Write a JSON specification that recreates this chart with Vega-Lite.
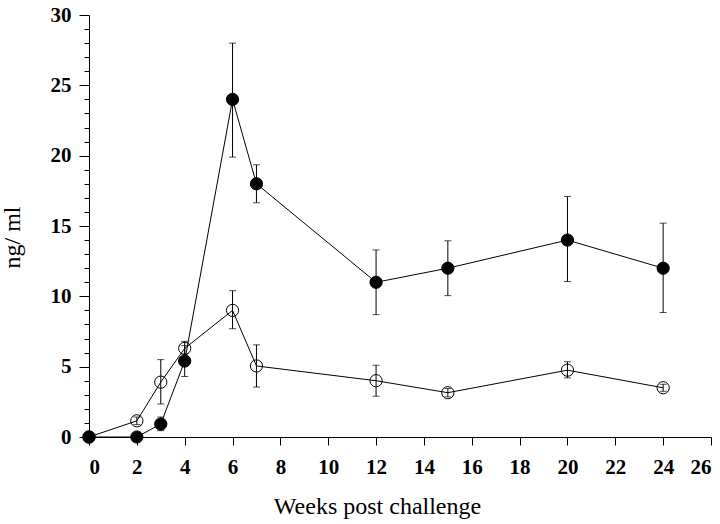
{
  "$schema": "https://vega.github.io/schema/vega-lite/v6.json",
  "width": 622,
  "height": 422,
  "autosize": "none",
  "padding": {"left": 89, "top": 15, "right": 9, "bottom": 87},
  "background": "white",
  "config": {
    "view": {"stroke": null},
    "font": "Liberation Serif",
    "axis": {"domainColor": "#000", "tickColor": "#000", "labelColor": "#000", "titleColor": "#000", "grid": false, "labelFont": "Liberation Serif", "titleFont": "Liberation Serif", "labelOverlap": false}
  },
  "data": {
    "values": [
      {"week": 0, "group": "closed", "ng": 0, "lo": 0, "hi": 0},
      {"week": 2, "group": "closed", "ng": 0, "lo": 0, "hi": 0},
      {"week": 3, "group": "closed", "ng": 0.92, "lo": 0.45, "hi": 1.42},
      {"week": 4, "group": "closed", "ng": 5.4, "lo": 4.3, "hi": 6.5},
      {"week": 6, "group": "closed", "ng": 24, "lo": 19.9, "hi": 28},
      {"week": 7, "group": "closed", "ng": 18, "lo": 16.65, "hi": 19.35},
      {"week": 12, "group": "closed", "ng": 11, "lo": 8.7, "hi": 13.3},
      {"week": 15, "group": "closed", "ng": 12, "lo": 10.05, "hi": 13.95},
      {"week": 20, "group": "closed", "ng": 14, "lo": 11.05, "hi": 17.1},
      {"week": 24, "group": "closed", "ng": 12, "lo": 8.85, "hi": 15.2},
      {"week": 0, "group": "open", "ng": 0, "lo": 0, "hi": 0},
      {"week": 2, "group": "open", "ng": 1.15, "lo": 0.88, "hi": 1.42},
      {"week": 3, "group": "open", "ng": 3.9, "lo": 2.35, "hi": 5.5},
      {"week": 4, "group": "open", "ng": 6.3, "lo": 5.9, "hi": 6.8},
      {"week": 6, "group": "open", "ng": 9, "lo": 7.7, "hi": 10.4},
      {"week": 7, "group": "open", "ng": 5.05, "lo": 3.55, "hi": 6.55},
      {"week": 12, "group": "open", "ng": 4, "lo": 2.9, "hi": 5.1},
      {"week": 15, "group": "open", "ng": 3.15, "lo": 2.85, "hi": 3.45},
      {"week": 20, "group": "open", "ng": 4.75, "lo": 4.2, "hi": 5.35},
      {"week": 24, "group": "open", "ng": 3.5, "lo": 3.25, "hi": 3.75}
    ]
  },
  "encoding": {
    "x": {
      "field": "week", "type": "quantitative",
      "scale": {"domain": [0, 26], "nice": false, "zero": false},
      "axis": {
        "values": [0, 2, 4, 6, 8, 10, 12, 14, 16, 18, 20, 22, 24, 26],
        "title": "Weeks post challenge",
        "labelFontSize": 21, "labelFontWeight": "bold", "labelPadding": 11,
        "tickSize": 8, "domainWidth": 1, "tickWidth": 1,
        "titleFontSize": 24, "titleFontWeight": "normal",
        "titleAnchor": "start", "titleAlign": "center", "titleBaseline": "alphabetic",
        "titleX": 288, "titleY": 76
      }
    }
  },
  "resolve": {"axis": {"y": "independent"}},
  "layer": [
    {
      "mark": {"type": "line", "color": "#000", "strokeWidth": 1},
      "encoding": {
        "y": {
          "field": "ng", "type": "quantitative",
          "scale": {"domain": [0, 30], "nice": false},
          "axis": {
            "orient": "left",
            "values": [0, 5, 10, 15, 20, 25, 30],
            "tickSize": 10,
            "labelFontSize": 21, "labelFontWeight": "bold", "labelPadding": 8,
            "title": "ng/ ml", "titleFontSize": 24, "titleFontWeight": "normal",
            "titleAnchor": "start", "titleAlign": "center", "titleBaseline": "alphabetic",
            "titleAngle": -90, "titleX": -70, "titleY": 222
          }
        },
        "detail": {"field": "group"}
      }
    },
    {
      "mark": {"type": "rule", "color": "#000", "strokeWidth": 1},
      "encoding": {
        "y": {
          "field": "lo", "type": "quantitative",
          "axis": {
            "orient": "left",
            "values": [1,2,3,4,6,7,8,9,11,12,13,14,16,17,18,19,21,22,23,24,26,27,28,29],
            "tickSize": 5, "labels": false, "domain": false, "title": null
          }
        },
        "y2": {"field": "hi"}
      }
    },
    {
      "mark": {"type": "tick", "orient": "horizontal", "color": "#000", "size": 7, "thickness": 1},
      "encoding": {"y": {"field": "lo", "type": "quantitative", "axis": null}}
    },
    {
      "mark": {"type": "tick", "orient": "horizontal", "color": "#000", "size": 7, "thickness": 1},
      "encoding": {"y": {"field": "hi", "type": "quantitative", "axis": null}}
    },
    {
      "mark": {"type": "point", "shape": "circle", "filled": true, "size": 150, "stroke": "#000", "strokeWidth": 1, "opacity": 1, "clip": false},
      "encoding": {
        "y": {"field": "ng", "type": "quantitative", "axis": null},
        "fill": {"field": "group", "type": "nominal", "scale": {"domain": ["closed", "open"], "range": ["#000", "transparent"]}, "legend": null},
        "order": {"field": "group", "sort": "descending"}
      }
    }
  ]
}
